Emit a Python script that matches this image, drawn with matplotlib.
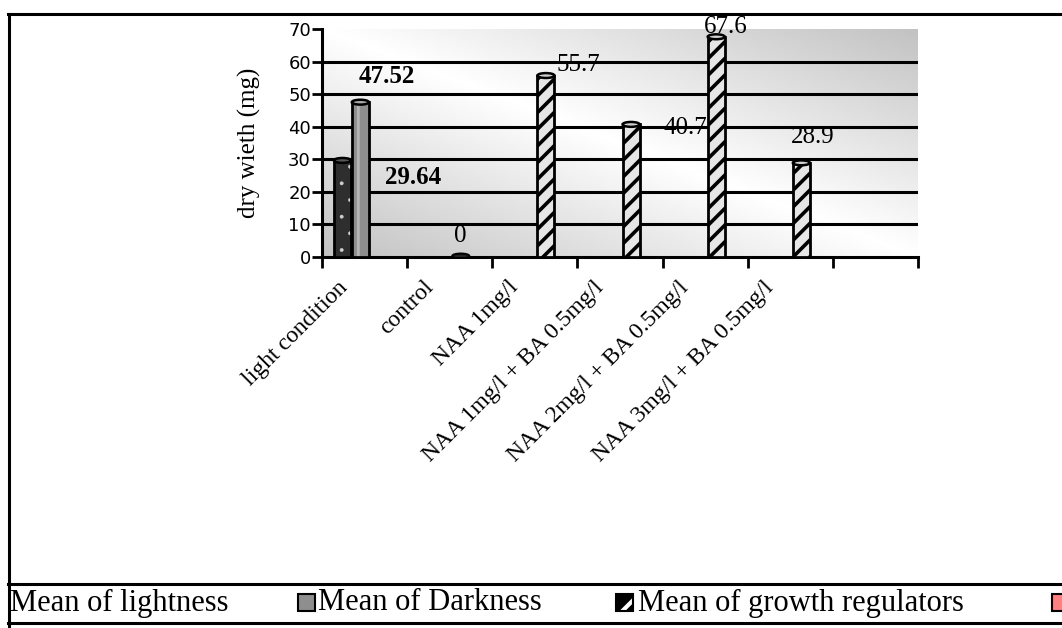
import numpy as np
import matplotlib
matplotlib.use("Agg")
import matplotlib.pyplot as plt
from matplotlib.patches import Ellipse, Rectangle
from matplotlib.lines import Line2D

categories = ["light condition", "control", "NAA 1mg/l",
              "NAA 1mg/l + BA 0.5mg/l", "NAA 2mg/l + BA 0.5mg/l",
              "NAA 3mg/l + BA 0.5mg/l", ""]
lightness = [29.64, np.nan, np.nan, np.nan, np.nan, np.nan, np.nan]
darkness = [47.52, np.nan, np.nan, np.nan, np.nan, np.nan, np.nan]
growth = [np.nan, 0, 55.7, 40.7, 67.6, 28.9, np.nan]
series_names = ["Mean of lightness", "Mean of Darkness", "Mean of growth regulators", ""]
yticks = [0, 10, 20, 30, 40, 50, 60, 70]

SERIF = "Liberation Serif"

# per-series look: offset inside the category, fill, hatch, cap colour, label style
styles = [
    dict(values=lightness, dx=-0.26, face="#2e2e2e", hatch=".", hcol="#d0d0d0", hlw=0.3,
         cap="#555555", fmt="{:.2f}", weight="bold",
         lab=[(0.83, -5.3)]),
    dict(values=darkness, dx=-0.05, face="#8e8e8e", hatch="|", hcol="#b4b4b4", hlw=2.0,
         cap="#a8a8a8", fmt="{:.2f}", weight="bold",
         lab=[(0.31, 7.8)]),
    dict(values=growth, dx=0.13, face="#e6e6e6", hatch="//", hcol="black", hlw=2.6,
         cap="#cfcfcf", fmt="{:g}", weight="normal",
         lab=[(0, 0), (-0.01, 6.4), (0.38, 3.3), (0.64, -1.1), (0.11, 3.0), (0.13, 7.9)]),
]
bar_w = 0.2


def hatched(patch, lw):
    if hasattr(patch, "set_hatch_linewidth"):
        patch.set_hatch_linewidth(lw)
    return patch


fig = plt.figure(figsize=(10.62, 6.28), dpi=100)
ax = fig.add_axes([0.3032, 0.5908, 0.5612, 0.3631])
ax.set_xlim(-0.5, len(categories) - 0.5)
ax.set_ylim(0, 70)

# shaded back wall: light along the falling diagonal, grey towards the corners
gx, gy = np.meshgrid(np.linspace(0, 1, 300), np.linspace(0, 1, 120))
shade = 1 - 0.24 * np.abs(gx + gy - 1.0)
ax.imshow(shade, extent=(-0.5, len(categories) - 0.5, 0, 70), origin="lower",
          aspect="auto", cmap="gray", vmin=0, vmax=1, zorder=0)

ax.hlines(yticks[1:-1], -0.5, len(categories) - 0.5, colors="black", lw=2.2, zorder=1)

for st in styles:
    for i, v in enumerate(st["values"]):
        if np.isnan(v):
            continue
        x = i + st["dx"]
        cap_h = 1.5
        if v > 0:
            with plt.rc_context({"hatch.linewidth": st["hlw"]}):
                bars = ax.bar(x, v, width=bar_w, color=st["face"], edgecolor=st["hcol"],
                              hatch=st["hatch"], linewidth=0, zorder=3)
                for b in bars:
                    hatched(b, st["hlw"])
            ax.bar(x, v, width=bar_w, fill=False, edgecolor="black", linewidth=2.0, zorder=4)
            ax.add_patch(Ellipse((x, v), bar_w, cap_h, facecolor=st["cap"],
                                 edgecolor="black", lw=1.8, zorder=5))
        else:
            ax.add_patch(Ellipse((x, v + 0.3), bar_w, cap_h, facecolor="#222222",
                                 edgecolor="black", lw=1.5, zorder=5))
        ox, oy = st["lab"][i]
        ax.text(x + ox, v + oy, st["fmt"].format(v), ha="center", va="center",
                fontsize=18, family=SERIF, fontweight=st["weight"], zorder=6)

for side in ["top", "right"]:
    ax.spines[side].set_visible(False)
for side in ["left", "bottom"]:
    ax.spines[side].set_linewidth(2.2)

ax.set_yticks(yticks)
ax.tick_params(axis="y", direction="out", length=7, width=2, labelsize=13, pad=1)
ax.set_xticks(np.arange(len(categories) + 1) - 0.5)
ax.set_xticklabels([])
ax.tick_params(axis="x", direction="out", length=8, width=2)

for i, name in enumerate(categories):
    ax.text(i - 0.23, -0.12, name, transform=ax.get_xaxis_transform(),
            rotation=45, rotation_mode="anchor", ha="right", va="center",
            fontsize=17, family=SERIF)

ax.text(-0.121, 0.5, "dry wieth (mg)", transform=ax.transAxes, rotation=90,
        ha="center", va="center", fontsize=18, family=SERIF)

# outer frame and legend strip
W, H = 1062, 628
def fx(px):
    return px / W
def fy(py):
    return 1 - py / H

for (x0, y0, x1, y1) in [(8, 14, W, 14), (9, 14, 9, H), (8, 584, W, 584), (8, 623, W, 623)]:
    fig.add_artist(Line2D([fx(x0), fx(x1)], [fy(y0), fy(y1)], color="black", lw=2.2))

leg_y = fy(603)
key = 17 / H
fig.text(fx(10), leg_y, series_names[0], ha="left", va="center", fontsize=22, family=SERIF)
fig.patches.append(Rectangle((fx(298), fy(611)), fx(17), key, transform=fig.transFigure,
                             facecolor="#8e8e8e", edgecolor="black", lw=1.5, figure=fig))
fig.text(fx(318), leg_y, series_names[1], ha="left", va="center", fontsize=22, family=SERIF)
with plt.rc_context({"hatch.linewidth": 3.0}):
    fig.patches.append(hatched(Rectangle((fx(616), fy(611)), fx(17), key,
                                         transform=fig.transFigure, facecolor="black",
                                         edgecolor="white", hatch="/", lw=0, figure=fig), 3.0))
fig.patches.append(Rectangle((fx(616), fy(611)), fx(17), key, transform=fig.transFigure,
                             fill=False, edgecolor="black", lw=1.5, figure=fig))
fig.text(fx(638), leg_y, series_names[2], ha="left", va="center", fontsize=22, family=SERIF)
fig.patches.append(Rectangle((fx(1052), fy(611)), fx(17), key, transform=fig.transFigure,
                             facecolor="#ff8080", edgecolor="black", lw=1.5, figure=fig))

fig.savefig("out.png", dpi=100)
